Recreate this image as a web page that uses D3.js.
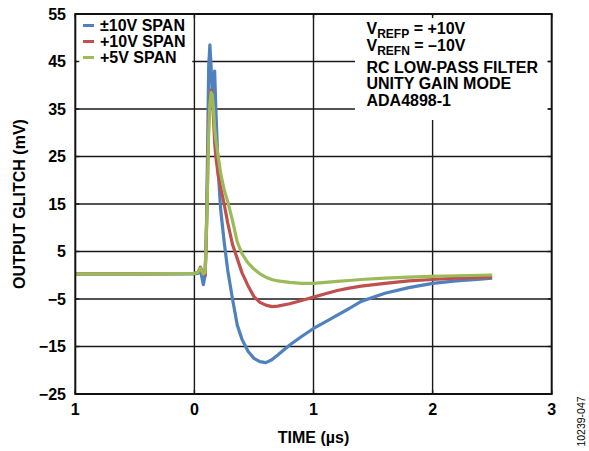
<!DOCTYPE html>
<html>
<head>
<meta charset="utf-8">
<script src="https://cdn.jsdelivr.net/npm/d3@7"></script>
<style>
  body { margin: 0; background: #fff; }
  svg text { font-family: "Liberation Sans", Arial, Helvetica, sans-serif; }
</style>
</head>
<body>
<div id="graph"></div>
<script>
// time in microseconds, shared by all three traces
var timeUs = [-1, -0.5, 0, 0.03, 0.05, 0.075, 0.09, 0.1, 0.11, 0.12, 0.13, 0.14, 0.15, 0.16, 0.17, 0.18,
  0.2, 0.22, 0.25, 0.28, 0.32, 0.36, 0.4, 0.45, 0.5, 0.55, 0.6, 0.65, 0.7, 0.8, 0.9, 1.0,
  1.1, 1.2, 1.3, 1.4, 1.6, 1.8, 2.0, 2.2, 2.4, 2.5];

// output glitch in mV
var span10Bipolar = [0.3, 0.3, 0.3, 0.4, 1.2, -2.0, 0, 8, 25, 44, 48.5, 44, 38, 40, 43, 35,
  22, 14, 7, 1, -5, -10.5, -13.5, -16, -17.5, -18.2, -18.4, -17.8, -16.8, -14.7, -12.9, -11.2,
  -9.8, -8.4, -7.0, -5.5, -3.8, -2.6, -1.7, -1.2, -0.8, -0.6];
var span10 = [0.3, 0.3, 0.4, 0.6, 1.7, 0.5, 0, 8, 20, 32, 37, 39, 38, 33, 28, 25,
  21, 18.5, 15, 11, 6.5, 3.5, 0.5, -2.2, -4.5, -5.7, -6.3, -6.6, -6.5, -6.0, -5.3, -4.6,
  -3.9, -3.2, -2.7, -2.3, -1.7, -1.2, -0.9, -0.6, -0.45, -0.4];
var span5 = [0.3, 0.3, 0.4, 0.6, 1.5, 0.3, 0.5, 8, 18, 30, 36, 38.5, 38, 35, 31, 28.5,
  25, 21.5, 18, 15.5, 11.5, 7, 4.5, 2.6, 1.3, 0.3, -0.4, -0.9, -1.2, -1.5, -1.7, -1.7,
  -1.5, -1.3, -1.1, -0.9, -0.6, -0.4, -0.25, -0.1, 0, 0.05];

var seriesNames = ["\u00b110V SPAN", "+10V SPAN", "+5V SPAN"];
var seriesColors = ["#4f81bd", "#c0504d", "#9bbb59"];

var xTicks = [-1, 0, 1, 2, 3];
var xTickLabels = ["1", "0", "1", "2", "3"];
var yTicks = [55, 45, 35, 25, 15, 5, -5, -15, -25];
var yTickLabels = ["55", "45", "35", "25", "15", "5", "\u22125", "\u221215", "\u221225"];

var width = 589, height = 451;
var plotLeft = 75.3, plotRight = 551.7, plotTop = 14, plotBottom = 394;
var fontSize = "16px";

var x = d3.scaleLinear().domain([-1, 3]).range([plotLeft, plotRight]);
var y = d3.scaleLinear().domain([-25, 55]).range([plotBottom, plotTop]);

var svg = d3.select("#graph").append("svg")
  .attr("width", width)
  .attr("height", height);

// grid
var grid = svg.append("g").attr("stroke", "#1a1a1a").attr("stroke-width", 1.4);
grid.selectAll(".gx").data(xTicks.slice(1, -1)).enter().append("line")
  .attr("x1", function(d) { return x(d); }).attr("x2", function(d) { return x(d); })
  .attr("y1", plotTop).attr("y2", plotBottom);
grid.selectAll(".gy").data(yTicks.slice(1, -1)).enter().append("line")
  .attr("x1", plotLeft).attr("x2", plotRight)
  .attr("y1", function(d) { return y(d); }).attr("y2", function(d) { return y(d); });

// white boxes behind legend and notes hide the grid
svg.append("rect").attr("x", plotLeft + 2).attr("y", plotTop + 2).attr("width", 115).attr("height", 52).attr("fill", "#fff");
svg.append("rect").attr("x", 355).attr("y", plotTop + 2).attr("width", plotRight - 4 - 355).attr("height", 104).attr("fill", "#fff");

// inward ticks on all four sides
var tickLen = 4;
var ticks = svg.append("g").attr("stroke", "#1a1a1a").attr("stroke-width", 1.4);
xTicks.forEach(function(d) {
  ticks.append("line").attr("x1", x(d)).attr("x2", x(d)).attr("y1", plotTop).attr("y2", plotTop + tickLen);
  ticks.append("line").attr("x1", x(d)).attr("x2", x(d)).attr("y1", plotBottom).attr("y2", plotBottom - tickLen);
});
yTicks.forEach(function(d) {
  ticks.append("line").attr("x1", plotLeft).attr("x2", plotLeft + tickLen).attr("y1", y(d)).attr("y2", y(d));
  ticks.append("line").attr("x1", plotRight).attr("x2", plotRight - tickLen).attr("y1", y(d)).attr("y2", y(d));
});

// traces
var allSeries = [span10Bipolar, span10, span5];
var line = d3.line()
  .x(function(d, i) { return x(timeUs[i]); })
  .y(function(d) { return y(d); });

svg.selectAll(".trace").data(allSeries).enter().append("path")
  .attr("class", "trace")
  .attr("d", line)
  .attr("fill", "none")
  .attr("stroke", function(d, i) { return seriesColors[i]; })
  .attr("stroke-width", 3.2)
  .attr("stroke-linejoin", "round");

// frame
svg.append("rect")
  .attr("x", plotLeft).attr("y", plotTop)
  .attr("width", plotRight - plotLeft).attr("height", plotBottom - plotTop)
  .attr("fill", "none").attr("stroke", "#111").attr("stroke-width", 2);

// tick labels
svg.selectAll(".xl").data(xTicks).enter().append("text")
  .attr("x", function(d) { return x(d); })
  .attr("y", 415)
  .attr("text-anchor", "middle")
  .attr("font-size", fontSize).attr("font-weight", "bold")
  .text(function(d, i) { return xTickLabels[i]; });

svg.selectAll(".yl").data(yTicks).enter().append("text")
  .attr("x", 66)
  .attr("y", function(d) { return y(d); })
  .attr("dy", "0.36em")
  .attr("text-anchor", "end")
  .attr("font-size", fontSize).attr("font-weight", "bold")
  .text(function(d, i) { return yTickLabels[i]; });

// axis titles
svg.append("text")
  .attr("x", x(1)).attr("y", 443)
  .attr("text-anchor", "middle")
  .attr("font-size", fontSize).attr("font-weight", "bold")
  .text("TIME (\u00b5s)");

svg.append("text")
  .attr("transform", "translate(25," + ((plotTop + plotBottom) / 2) + ") rotate(-90)")
  .attr("text-anchor", "middle")
  .attr("font-size", fontSize).attr("font-weight", "bold")
  .text("OUTPUT GLITCH (mV)");

// legend
var legend = svg.selectAll(".legend").data(seriesNames).enter().append("g")
  .attr("transform", function(d, i) { return "translate(83," + (25.5 + i * 16) + ")"; });
legend.append("line")
  .attr("x1", 0).attr("x2", 11)
  .attr("stroke", function(d, i) { return seriesColors[i]; })
  .attr("stroke-width", 3);
legend.append("text")
  .attr("x", 17).attr("y", 5.5)
  .attr("font-size", fontSize).attr("font-weight", "bold")
  .text(function(d) { return d; });

// conditions note
var note = svg.append("g").attr("font-size", fontSize).attr("font-weight", "bold");
var vp = note.append("text").attr("x", 366.5).attr("y", 34);
vp.append("tspan").text("V");
vp.append("tspan").attr("font-size", "12px").attr("dy", 4).text("REFP");
vp.append("tspan").attr("dy", -4).text(" = +10V");
var vn = note.append("text").attr("x", 366.5).attr("y", 50.5);
vn.append("tspan").text("V");
vn.append("tspan").attr("font-size", "12px").attr("dy", 4).text("REFN");
vn.append("tspan").attr("dy", -4).text(" = \u201310V");
note.append("text").attr("x", 366.5).attr("y", 72.5).text("RC LOW-PASS FILTER");
note.append("text").attr("x", 366.5).attr("y", 89).text("UNITY GAIN MODE");
note.append("text").attr("x", 366.5).attr("y", 105.5).text("ADA4898-1");

// figure id
svg.append("text")
  .attr("transform", "translate(585,421.5) rotate(-90)")
  .attr("text-anchor", "middle")
  .attr("font-size", "10.5px")
  .text("10239-047");
</script>
</body>
</html>
